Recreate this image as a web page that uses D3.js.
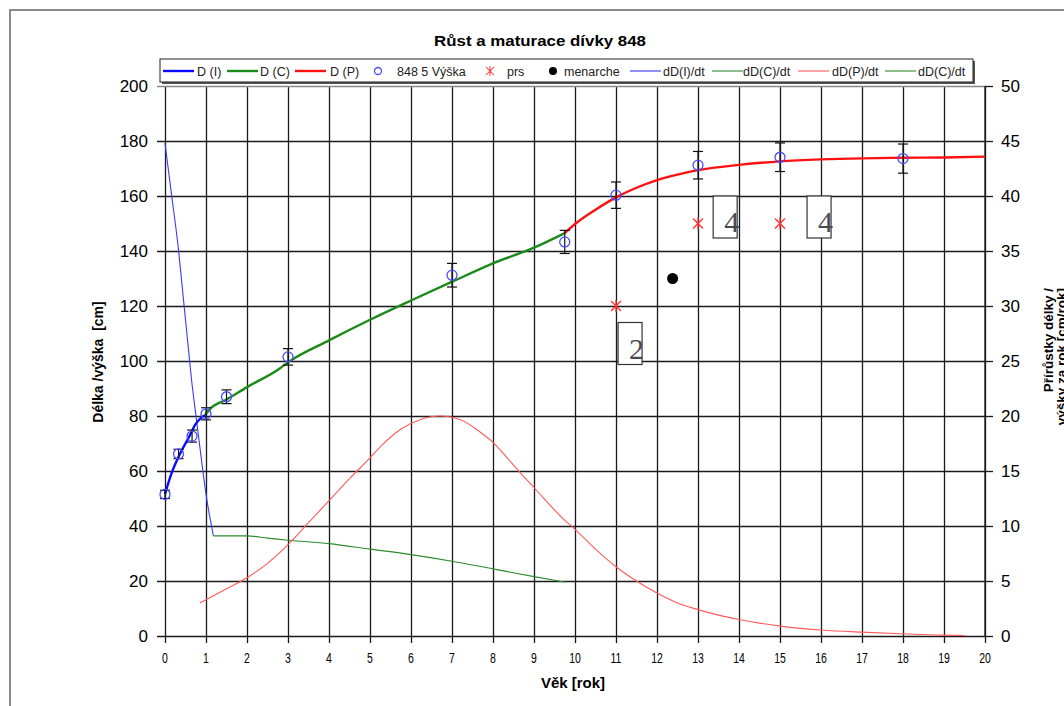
<!DOCTYPE html>
<html><head><meta charset="utf-8">
<script src="https://cdn.jsdelivr.net/npm/d3@7"></script>
<style>
body{margin:0;background:#fff}
text{font-family:"Liberation Sans",Arial,sans-serif}
</style>
</head><body>
<svg id="chart" width="1064" height="706"></svg>
<script>
// measured heights (848 5 Výška) with error bars
var ages = [0, 0.33, 0.66, 1, 1.5, 3, 7, 9.75, 11, 13, 15, 18];
var heights = [51.5, 66.2, 72.7, 80.8, 87, 101.5, 131.2, 143.3, 160.3, 171.2, 174.1, 173.6];
var heightErr = [1.5, 1.7, 2.2, 2.2, 2.5, 3, 4.3, 4.2, 4.8, 5, 5.2, 5.3];

// fitted curves D(I), D(C), D(P)  [cm]
var curveIAge = [0, 0.16, 0.37, 0.61, 0.73, 0.85, 0.98];
var curveIVal = [51.6, 59.2, 66.4, 73.1, 76.7, 78.9, 80.4];
var curveCAge = [0.98, 1.1, 1.5, 2, 2.8, 3, 4, 5, 6, 7, 8, 9, 9.75];
var curveCVal = [80.4, 82.6, 86.0, 90.5, 97.3, 99.5, 107.5, 115, 122, 128.8, 135.5, 141.2, 146.5];
var curvePAge = [9.75, 10, 10.5, 11, 11.5, 12, 12.5, 13, 14, 15, 16, 17, 18, 19, 20];
var curvePVal = [146.5, 149.8, 155, 159.5, 163, 165.8, 167.8, 169.4, 171.3, 172.6, 173.3, 173.7, 173.9, 174, 174.3];

// growth rates dD/dt  [cm/rok]
var rateIAge = [0, 0.16, 0.33, 0.45, 0.55, 0.65, 0.77, 0.89, 1.02, 1.14, 1.18];
var rateIVal = [44.8, 40.1, 35.1, 30.6, 26.9, 23.2, 19.6, 16, 12.4, 9.9, 9.1];
var rateCAge = [1.18, 2, 2.5, 3, 4, 5, 6, 7, 8, 9, 9.75];
var rateCVal = [9.1, 9.1, 8.9, 8.7, 8.4, 7.9, 7.4, 6.8, 6.1, 5.4, 4.9];
var ratePAge = [0.85, 1.4, 2, 2.5, 3, 3.5, 4, 4.5, 5, 5.25, 5.75, 6.25, 6.7, 7.25, 7.7, 8, 8.25, 8.65, 9, 9.7, 10, 10.5, 11, 11.5, 12, 12.5, 13, 13.5, 14, 15, 16, 17, 18, 19, 19.5];
var ratePVal = [3.0, 4.1, 5.3, 6.6, 8.3, 10.3, 12.3, 14.3, 16.2, 17.2, 18.8, 19.7, 20.0, 19.6, 18.5, 17.6, 16.6, 14.9, 13.5, 10.7, 9.7, 7.9, 6.3, 5.0, 3.9, 3.0, 2.4, 1.9, 1.5, 0.9, 0.55, 0.35, 0.2, 0.08, 0.05];

// prs (breast stage) and menarche
var prsAge = [11, 13, 15];
var prsVal = [120, 150, 150];
var menarcheAge = [12.38];
var menarcheVal = [130];
var stageAge = [11.05, 13.37, 15.66];
var stageTop = [114, 160, 160];
var stageLabel = ['2', '4', '4'];

var xTicks = d3.range(0, 21, 1);
var yTicks = d3.range(0, 201, 20);
var y2Ticks = d3.range(0, 51, 5);

var svg = d3.select('#chart');
var pL = 165, pR = 985, pT = 86, pB = 636;

var x = d3.scaleLinear().domain([0, 20]).range([pL, pR]);
var y = d3.scaleLinear().domain([0, 200]).range([pB, pT]);
var y2 = d3.scaleLinear().domain([0, 50]).range([pB, pT]);

// outer frame
svg.append('rect').attr('x', 10).attr('y', 10).attr('width', 1100).attr('height', 800)
  .attr('fill', 'none').attr('stroke', '#666').attr('stroke-width', 1.5);

svg.append('text').attr('x', 540).attr('y', 46).attr('text-anchor', 'middle')
  .style('font-size', '15px').style('font-weight', 'bold').attr('textLength', 212)
  .attr('lengthAdjust', 'spacingAndGlyphs')
  .text('Růst a maturace dívky 848');

// grid + axes
var W = pR - pL, H = pB - pT;
var gx = svg.append('g').attr('transform', 'translate(0,' + pT + ')')
  .call(d3.axisBottom(x).tickValues(xTicks).tickSize(H + 7).tickFormat(''));
var gy = svg.append('g').attr('transform', 'translate(' + pR + ',0)')
  .call(d3.axisLeft(y).tickValues(yTicks).tickSize(W + 8).tickFormat(''));
var gy2 = svg.append('g').attr('transform', 'translate(' + pR + ',0)')
  .call(d3.axisRight(y2).tickValues(y2Ticks).tickSize(8).tickFormat(''));
[gx, gy, gy2].forEach(function(g) {
  g.select('.domain').remove();
  g.selectAll('line').attr('stroke', '#1a1a1a').attr('stroke-width', 1.3);
});
gy.selectAll('.tick').filter(function(d) { return d === 200; }).select('line').attr('stroke', '#888');
svg.append('line').attr('x1', pR).attr('x2', pR).attr('y1', pT).attr('y2', pB)
  .attr('stroke', '#1a1a1a').attr('stroke-width', 1.3);

// tick labels
svg.append('g').selectAll('text').data(yTicks).enter().append('text')
  .attr('x', 148).attr('y', function(d) { return y(d) + 6; }).attr('text-anchor', 'end')
  .style('font-size', '17px').text(function(d) { return d; });
svg.append('g').selectAll('text').data(y2Ticks).enter().append('text')
  .attr('x', 1001).attr('y', function(d) { return y2(d) + 6; })
  .style('font-size', '17px').text(function(d) { return d; });
svg.append('g').selectAll('text').data(xTicks).enter().append('text')
  .attr('transform', function(d) { return 'translate(' + x(d) + ',663) scale(0.7,1)'; })
  .attr('text-anchor', 'middle').style('font-size', '15px').text(function(d) { return d; });

svg.append('text').attr('x', 573).attr('y', 688).attr('text-anchor', 'middle')
  .style('font-size', '14px').style('font-weight', 'bold')
  .attr('textLength', 64).attr('lengthAdjust', 'spacingAndGlyphs').text('Věk [rok]');
svg.append('text').attr('transform', 'translate(103,362) rotate(-90)').attr('text-anchor', 'middle')
  .style('font-size', '14px').style('font-weight', 'bold').style('white-space', 'pre')
  .text('Délka /výška  [cm]');
svg.append('text').attr('transform', 'translate(1053,288) rotate(-90)').attr('text-anchor', 'end')
  .style('font-size', '13.5px').style('font-weight', 'bold').text('Přírůstky délky /');
svg.append('text').attr('transform', 'translate(1066,288) rotate(-90)').attr('text-anchor', 'end')
  .style('font-size', '13.5px').style('font-weight', 'bold').text('výšky za rok [cm/rok]');

// lines
function drawLine(xs, ys, scale, color, width) {
  var pts = xs.map(function(a, i) { return [a, ys[i]]; });
  var line = d3.line().x(function(d) { return x(d[0]); }).y(function(d) { return scale(d[1]); })
    .curve(d3.curveMonotoneX);
  svg.append('path').datum(pts).attr('d', line).attr('fill', 'none')
    .attr('stroke', color).attr('stroke-width', width);
}
drawLine(rateIAge, rateIVal, y2, '#3a3aff', 1.1);
drawLine(rateCAge, rateCVal, y2, '#2e8b2e', 1.1);
drawLine(ratePAge, ratePVal, y2, '#ff5a5a', 1.1);
drawLine(curveIAge, curveIVal, y, '#0a0aff', 2.4);
drawLine(curveCAge, curveCVal, y, '#1b8a1b', 2.4);
drawLine(curvePAge, curvePVal, y, '#ff1010', 2.4);

// error bars + circles
var eb = svg.append('g').attr('stroke', '#111').attr('stroke-width', 1.2);
ages.forEach(function(a, i) {
  var cx = x(a), t = y(heights[i] + heightErr[i]), b = y(heights[i] - heightErr[i]);
  eb.append('line').attr('x1', cx).attr('x2', cx).attr('y1', t).attr('y2', b);
  eb.append('line').attr('x1', cx - 5).attr('x2', cx + 5).attr('y1', t).attr('y2', t);
  eb.append('line').attr('x1', cx - 5).attr('x2', cx + 5).attr('y1', b).attr('y2', b);
});
svg.append('g').selectAll('circle').data(ages).enter().append('circle')
  .attr('cx', function(d) { return x(d); }).attr('cy', function(d, i) { return y(heights[i]); })
  .attr('r', 5).attr('fill', 'none').attr('stroke', '#4a4aff').attr('stroke-width', 1.3);

// prs asterisks
var star = 'M-5,-5L5,5M-5,5L5,-5M0,-6L0,6';
svg.append('g').selectAll('path').data(prsAge).enter().append('path')
  .attr('transform', function(d, i) { return 'translate(' + x(d) + ',' + y(prsVal[i]) + ')'; })
  .attr('d', star).attr('stroke', '#ff3030').attr('stroke-width', 1.3).attr('fill', 'none');
svg.append('g').selectAll('circle').data(menarcheAge).enter().append('circle')
  .attr('cx', function(d) { return x(d); }).attr('cy', function(d, i) { return y(menarcheVal[i]); })
  .attr('r', 5.5).attr('fill', '#000');

// stage boxes
var boxes = svg.append('g').selectAll('g').data(stageAge).enter().append('g')
  .attr('transform', function(d, i) { return 'translate(' + x(d) + ',' + y(stageTop[i]) + ')'; });
boxes.append('rect').attr('width', 24).attr('height', 42).attr('fill', '#fff')
  .attr('stroke', '#333').attr('stroke-width', 1.2);
boxes.append('text').attr('x', 26).attr('y', 36).attr('text-anchor', 'end')
  .style('font-family', '"Liberation Serif","Times New Roman",serif').style('font-size', '30px')
  .attr('fill', '#4a4a55').text(function(d, i) { return stageLabel[i]; });

// legend
var legend = svg.append('g');
legend.append('rect').attr('x', 162).attr('y', 61).attr('width', 813).attr('height', 23).attr('fill', '#555');
legend.append('rect').attr('x', 160).attr('y', 59).attr('width', 813).attr('height', 23)
  .attr('fill', '#fff').attr('stroke', '#222').attr('stroke-width', 1);
var legItems = [
  {type: 'line', c: '#0a0aff', w: 2.4, x: 163, tx: 197, t: 'D (I)'},
  {type: 'line', c: '#1b8a1b', w: 2.4, x: 227, tx: 260, t: 'D (C)'},
  {type: 'line', c: '#ff1010', w: 2.4, x: 295, tx: 330, t: 'D (P)'},
  {type: 'circle', x: 378, tx: 397, t: '848 5 Výška'},
  {type: 'star', x: 490, tx: 507, t: 'prs'},
  {type: 'dot', x: 553, tx: 564, t: 'menarche'},
  {type: 'line', c: '#3a3aff', w: 1.1, x: 630, tx: 663, t: 'dD(I)/dt'},
  {type: 'line', c: '#2e8b2e', w: 1.1, x: 712, tx: 743, t: 'dD(C)/dt'},
  {type: 'line', c: '#ff5a5a', w: 1.1, x: 798, tx: 832, t: 'dD(P)/dt'},
  {type: 'line', c: '#2e8b2e', w: 1.1, x: 885, tx: 918, t: 'dD(C)/dt'}
];
var ly = 71;
legItems.forEach(function(it) {
  if (it.type === 'line') {
    legend.append('line').attr('x1', it.x).attr('x2', it.x + 31).attr('y1', ly).attr('y2', ly)
      .attr('stroke', it.c).attr('stroke-width', it.w);
  } else if (it.type === 'circle') {
    legend.append('circle').attr('cx', it.x).attr('cy', ly).attr('r', 3.5).attr('fill', 'none')
      .attr('stroke', '#4a4aff').attr('stroke-width', 1.3);
  } else if (it.type === 'star') {
    legend.append('path').attr('transform', 'translate(' + it.x + ',' + ly + ') scale(0.8)')
      .attr('d', star).attr('stroke', '#ff3030').attr('stroke-width', 1.3);
  } else {
    legend.append('circle').attr('cx', it.x).attr('cy', ly).attr('r', 4).attr('fill', '#000');
  }
  legend.append('text').attr('x', it.tx).attr('y', ly + 4.5).style('font-size', '12.5px')
    .attr('fill', '#222').text(it.t);
});
</script>
</body></html>
